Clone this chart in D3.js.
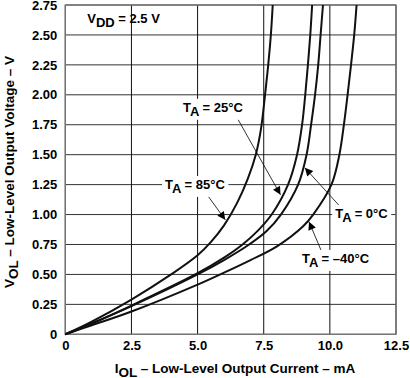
<!DOCTYPE html>
<html><head><meta charset="utf-8">
<script src="https://cdn.jsdelivr.net/npm/d3@7"></script>
<style>
html,body{margin:0;padding:0;background:#fff;}
svg{display:block;font-family:"Liberation Sans",Arial,sans-serif;font-weight:bold;}
</style></head>
<body><svg id="c" width="410" height="378"></svg>
<script>
// ---- data ----
const xTicks = [0, 2.5, 5, 7.5, 10, 12.5];
const xTickLabels = ["0", "2.5", "5.0", "7.5", "10.0", "12.5"];
const yTicks = [0, 0.25, 0.5, 0.75, 1, 1.25, 1.5, 1.75, 2, 2.25, 2.5, 2.75];
const yTickLabels = ["0", "0.25", "0.50", "0.75", "1.00", "1.25", "1.50", "1.75", "2.00", "2.25", "2.50", "2.75"];

const temps = ["85", "25", "0", "–40"];
const current85 = [0, 1.0, 2.5, 4.0, 5.0, 5.5, 6.0, 6.5, 6.9, 7.2, 7.4, 7.55, 7.67, 7.77, 7.84];
const voltage85 = [0, 0.106, 0.29, 0.5, 0.66, 0.77, 0.91, 1.10, 1.30, 1.50, 1.72, 2.0, 2.25, 2.5, 2.75];
const current25 = [0, 1.0, 2.5, 5.0, 6.0, 6.7, 7.3, 7.8, 8.42, 8.76, 8.95, 9.07, 9.17, 9.26, 9.33];
const voltage25 = [0, 0.09, 0.24, 0.51, 0.64, 0.75, 0.87, 1.0, 1.25, 1.5, 1.75, 2.0, 2.25, 2.5, 2.75];
const current0 = [0, 1.0, 2.5, 5.0, 6.0, 6.95, 7.6, 8.15, 8.8, 9.12, 9.29, 9.44, 9.56, 9.65, 9.74];
const voltage0 = [0, 0.09, 0.235, 0.50, 0.62, 0.75, 0.86, 1.0, 1.25, 1.5, 1.75, 2.0, 2.25, 2.5, 2.75];
const currentM40 = [0, 1.0, 2.5, 5.0, 6.0, 7.0, 8.0, 9.0, 9.37, 10.06, 10.36, 10.53, 10.67, 10.8, 10.92, 11.01];
const voltageM40 = [0, 0.075, 0.19, 0.415, 0.515, 0.62, 0.735, 0.905, 1.0, 1.25, 1.5, 1.75, 2.0, 2.25, 2.5, 2.75];

// ---- layout ----
const svg = d3.select("#c");
const x = d3.scaleLinear().domain([0, 12.5]).range([65.3, 396]);
const y = d3.scaleLinear().domain([0, 2.75]).range([334.3, 5]);

const series = [
  {t: temps[0], xs: current85, ys: voltage85},
  {t: temps[1], xs: current25, ys: voltage25},
  {t: temps[2], xs: current0, ys: voltage0},
  {t: temps[3], xs: currentM40, ys: voltageM40}
].map(s => ({t: s.t, pts: s.xs.map((c, i) => [c, s.ys[i]])}));

// grid
const g = svg.append("g");
g.selectAll("line.h").data(yTicks).join("line")
  .attr("x1", x(0)).attr("x2", x(12.5))
  .attr("y1", d => y(d)).attr("y2", d => y(d))
  .attr("stroke", "#333").attr("stroke-width", 1);
g.selectAll("line.v").data(xTicks).join("line")
  .attr("y1", y(0)).attr("y2", y(2.75))
  .attr("x1", d => x(d)).attr("x2", d => x(d))
  .attr("stroke", "#111").attr("stroke-width", 1);
g.append("rect").attr("x", x(0)).attr("y", y(2.75))
  .attr("width", x(12.5) - x(0)).attr("height", y(0) - y(2.75))
  .attr("fill", "none").attr("stroke", "#777").attr("stroke-width", 1.3);

// axes tick labels via d3 axes
const xAxis = d3.axisBottom(x).tickValues(xTicks).tickFormat((d, i) => xTickLabels[i]).tickSize(0).tickPadding(6);
const yAxis = d3.axisLeft(y).tickValues(yTicks).tickFormat((d, i) => yTickLabels[i]).tickSize(0).tickPadding(8);
const gx = svg.append("g").attr("transform", `translate(0,${y(0)})`).call(xAxis);
const gy = svg.append("g").attr("transform", `translate(${x(0)},0)`).call(yAxis);
[gx, gy].forEach(a => {
  a.select(".domain").remove();
  a.selectAll("text").attr("font-family", '"Liberation Sans",Arial,sans-serif')
    .attr("font-weight", "bold").attr("font-size", 13).attr("fill", "#000");
});

// curves
const line = d3.line().x(d => x(d[0])).y(d => y(d[1])).curve(d3.curveCatmullRom.alpha(0.5));
svg.append("g").selectAll("path").data(series).join("path")
  .attr("d", d => line(d.pts)).attr("fill", "none")
  .attr("stroke", "#111").attr("stroke-width", 2);

// arrow marker
svg.append("defs").append("marker").attr("id", "ah")
  .attr("viewBox", "0 0 10 10").attr("refX", 10).attr("refY", 5)
  .attr("markerUnits", "userSpaceOnUse").attr("markerWidth", 10).attr("markerHeight", 8)
  .attr("orient", "auto")
  .append("path").attr("d", "M0,0 L10,5 L0,10 Z").attr("fill", "#000");

function xOnCurve(pts, v) {
  for (let i = 1; i < pts.length; i++) {
    if (pts[i][1] >= v) {
      const a = pts[i - 1], b = pts[i];
      return a[0] + (b[0] - a[0]) * (v - a[1]) / (b[1] - a[1]);
    }
  }
  return pts[pts.length - 1][0];
}

// annotations (data-space positions)
const annotations = [
  {s: 1, tx: 4.45, ty: 1.858, lx: 6.45, ly: 1.825, tipV: 1.165, dx: -2},
  {s: 0, tx: 3.77, ty: 1.214, lx: 5.28, ly: 1.19, tipV: 0.956, dx: -2},
  {s: 2, tx: 10.2, ty: 0.972, lx: 10.39, ly: 1.066, tipV: 1.39, dx: 2},
  {s: 3, tx: 8.95, ty: 0.596, lx: 9.69, ly: 0.69, tipV: 0.94, dx: 2}
];

const ann = svg.append("g");
annotations.forEach(a => {
  const s = series[a.s];
  const tipX = x(xOnCurve(s.pts, a.tipV)) + a.dx, tipY = y(a.tipV);
  ann.append("line").attr("x1", x(a.lx)).attr("y1", y(a.ly))
    .attr("x2", tipX).attr("y2", tipY)
    .attr("stroke", "#000").attr("stroke-width", 0.8).attr("marker-end", "url(#ah)");
  const grp = ann.append("g");
  const bg = grp.append("rect").attr("fill", "#fff");
  const t = grp.append("text").attr("x", x(a.tx)).attr("y", y(a.ty))
    .attr("font-size", 13).attr("fill", "#000");
  t.append("tspan").text("T");
  t.append("tspan").attr("dy", 4).text("A");
  t.append("tspan").attr("dy", -4).text(" = " + s.t + "°C");
  const bb = t.node().getBBox();
  bg.attr("x", bb.x - 3).attr("y", bb.y - 1).attr("width", bb.width + 6).attr("height", bb.height + 2);
});

// VDD label
const vdd = svg.append("text").attr("x", x(0.83)).attr("y", y(2.6)).attr("font-size", 13);
vdd.append("tspan").text("V");
vdd.append("tspan").attr("dy", 4).text("DD");
vdd.append("tspan").attr("dy", -4).text(" = 2.5 V");

// axis titles
const xt = svg.append("text").attr("x", 235).attr("y", 373)
  .attr("text-anchor", "middle").attr("font-size", 13.5);
xt.append("tspan").text("I");
xt.append("tspan").attr("dy", 3.5).text("OL");
xt.append("tspan").attr("dy", -3.5).text(" – Low-Level Output Current – mA");

const yt = svg.append("text").attr("transform", `translate(14,172) rotate(-90)`)
  .attr("text-anchor", "middle").attr("font-size", 13.5);
yt.append("tspan").text("V");
yt.append("tspan").attr("dy", 4).text("OL");
yt.append("tspan").attr("dy", -4).text(" – Low-Level Output Voltage – V");
</script></body></html>
